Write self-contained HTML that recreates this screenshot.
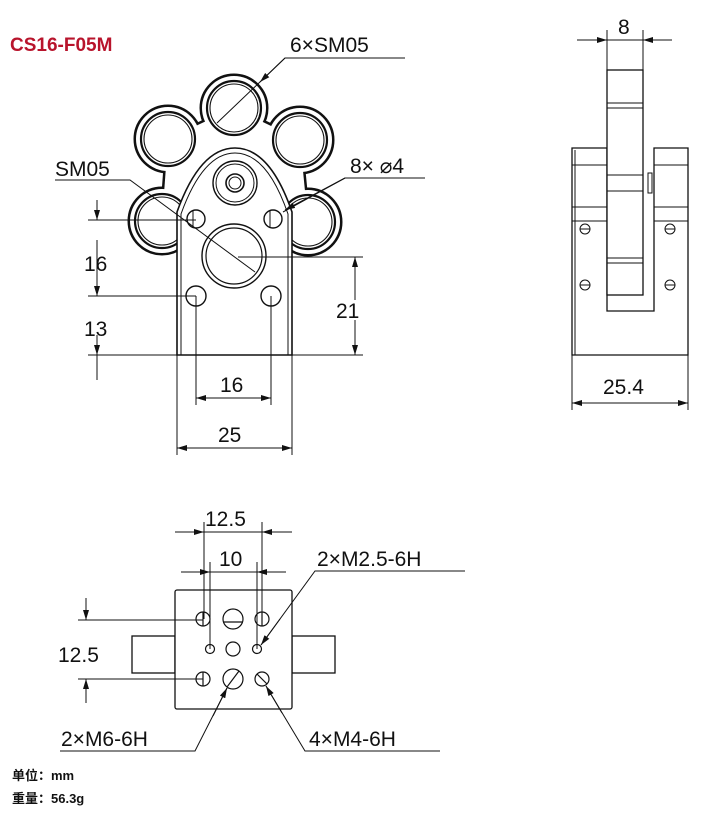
<!DOCTYPE html>
<html><head><meta charset="utf-8"><style>
html,body{margin:0;padding:0;background:#fff;}
svg{display:block;}
text{font-family:"Liberation Sans",Arial,sans-serif;fill:#111;}
</style></head><body>
<svg width="718" height="818" viewBox="0 0 718 818" xmlns="http://www.w3.org/2000/svg">
<defs>
<marker id="a" viewBox="0 0 10 6" refX="10" refY="3" markerWidth="10" markerHeight="6" orient="auto-start-reverse" markerUnits="userSpaceOnUse"><path d="M0,0 L10,3 L0,6 z" fill="#111"/></marker>
</defs>
<text x="10" y="51" style="font-size:19px;font-weight:bold;fill:#b8142c">CS16-F05M</text>

<!-- FRONT VIEW flower: union outline -->
<g stroke="#111" stroke-width="5" fill="#111">
<polygon points="234,108 300,140 308,222 235,250 162,221 168,139"/>
<circle cx="234" cy="108" r="32"/><circle cx="168" cy="139" r="32"/>
<circle cx="300" cy="140" r="32"/><circle cx="162" cy="221" r="32"/>
<circle cx="308" cy="222" r="32"/>
</g>
<g fill="#fff" stroke="none">
<polygon points="234,108 300,140 308,222 235,250 162,221 168,139"/>
<circle cx="234" cy="108" r="32"/><circle cx="168" cy="139" r="32"/>
<circle cx="300" cy="140" r="32"/><circle cx="162" cy="221" r="32"/>
<circle cx="308" cy="222" r="32"/>
</g>
<g fill="none" stroke="#111">
<g stroke-width="2.2">
<circle cx="234" cy="108" r="27"/>
<circle cx="168" cy="139" r="27"/>
<circle cx="300" cy="140" r="27"/>
<circle cx="162" cy="221" r="27"/>
<circle cx="308" cy="222" r="27"/>
</g>
<g stroke-width="1.1">
<circle cx="234" cy="108" r="24"/>
<circle cx="168" cy="139" r="24"/>
<circle cx="300" cy="140" r="24"/>
<circle cx="162" cy="221" r="24"/>
<circle cx="308" cy="222" r="24"/>
</g>
</g>
<!-- bracket plate -->
<path d="M177,355 L177,212 Q200,148 235,148 Q270,148 292,212 L292,355 Z" fill="#fff" stroke="#111" stroke-width="1.6"/>
<path d="M181,355 L181,214 Q203,153 235,153 Q267,153 288,214 L288,355" fill="none" stroke="#111" stroke-width="1"/>
<g fill="none" stroke="#111">
<circle cx="235" cy="183" r="22" stroke-width="1.4"/>
<circle cx="235" cy="183" r="19" stroke-width="1"/>
<circle cx="235" cy="183" r="9" stroke-width="1.6"/>
<circle cx="235" cy="183" r="6" stroke-width="1"/>
<circle cx="234" cy="256" r="32" stroke-width="1.4"/>
<circle cx="234" cy="256" r="28" stroke-width="1.2"/>
<circle cx="196" cy="219" r="9" stroke-width="1.4"/>
<circle cx="273" cy="219" r="9" stroke-width="1.4"/>
<line x1="193" y1="211" x2="193" y2="227"/><line x1="270" y1="211" x2="270" y2="227"/>
<circle cx="196" cy="296" r="10" stroke-width="1.4"/>
<circle cx="271" cy="296" r="10" stroke-width="1.4"/>
</g>
<!-- front dims -->
<g stroke="#111" stroke-width="1" fill="none">
<line x1="88" y1="220" x2="196" y2="220"/>
<line x1="88" y1="296" x2="196" y2="296"/>
<line x1="88" y1="355" x2="363" y2="355"/>
<line x1="238" y1="257" x2="363" y2="257"/>
<line x1="97" y1="200" x2="97" y2="220" marker-end="url(#a)"/>
<line x1="97" y1="240" x2="97" y2="296" marker-end="url(#a)"/>
<line x1="97" y1="335" x2="97" y2="355" marker-end="url(#a)"/>
<line x1="97" y1="355" x2="97" y2="380"/>
<line x1="355" y1="300" x2="355" y2="257" marker-end="url(#a)"/>
<line x1="355" y1="320" x2="355" y2="355" marker-end="url(#a)"/>
<line x1="196" y1="296" x2="196" y2="405"/>
<line x1="271" y1="296" x2="271" y2="405"/>
<line x1="177" y1="355" x2="177" y2="455"/>
<line x1="292" y1="355" x2="292" y2="455"/>
<line x1="196" y1="398" x2="271" y2="398" marker-start="url(#a)" marker-end="url(#a)"/>
<line x1="177" y1="448" x2="292" y2="448" marker-start="url(#a)" marker-end="url(#a)"/>
<polyline points="405,58 285,58 217,123"/>
<line x1="285" y1="58" x2="260" y2="82" marker-end="url(#a)"/>
<polyline points="55,180 130,180 255,272"/>
<polyline points="425,178 345,178 283,212"/>
<line x1="345" y1="178" x2="285" y2="210" marker-end="url(#a)"/>
</g>
<g style="font-size:21px">
<text x="290" y="52">6×SM05</text>
<text x="55" y="176">SM05</text>
<text x="350" y="173">8× ⌀4</text>
<text x="84" y="271">16</text>
<text x="84" y="336">13</text>
<text x="336" y="318">21</text>
<text x="220" y="392">16</text>
<text x="218" y="442">25</text>
</g>

<!-- SIDE VIEW -->
<g fill="#fff" stroke="#111" stroke-width="1.3">
<path d="M572,355 L572,148 L607,148 L607,311 L654,311 L654,148 L688,148 L688,355 Z"/>
<rect x="607" y="70" width="36" height="225"/>
</g>
<g stroke="#111" stroke-width="1" fill="none">
<line x1="575" y1="150" x2="575" y2="355"/>
<line x1="572" y1="165" x2="607" y2="165"/><line x1="654" y1="165" x2="688" y2="165"/>
<line x1="572" y1="207" x2="607" y2="207"/><line x1="654" y1="207" x2="688" y2="207"/>
<line x1="572" y1="221" x2="607" y2="221"/><line x1="654" y1="221" x2="688" y2="221"/>
<line x1="607" y1="103" x2="643" y2="103"/><line x1="607" y1="108" x2="643" y2="108"/>
<line x1="607" y1="175" x2="643" y2="175"/><line x1="607" y1="191" x2="643" y2="191"/>
<line x1="607" y1="258" x2="643" y2="258"/><line x1="607" y1="263" x2="643" y2="263"/>
<rect x="648" y="173" width="4" height="20"/>
<circle cx="585" cy="229" r="5"/><line x1="580" y1="229" x2="590" y2="229"/>
<circle cx="670" cy="229" r="5"/><line x1="665" y1="229" x2="675" y2="229"/>
<circle cx="585" cy="285" r="5"/><line x1="580" y1="285" x2="590" y2="285"/>
<circle cx="670" cy="285" r="5"/><line x1="665" y1="285" x2="675" y2="285"/>
<line x1="607" y1="30" x2="607" y2="70"/><line x1="643" y1="30" x2="643" y2="70"/>
<line x1="577" y1="40" x2="607" y2="40" marker-end="url(#a)"/>
<line x1="672" y1="40" x2="643" y2="40" marker-end="url(#a)"/>
<line x1="607" y1="40" x2="643" y2="40"/>
<line x1="572" y1="355" x2="572" y2="410"/><line x1="688" y1="355" x2="688" y2="410"/>
<line x1="572" y1="403" x2="688" y2="403" marker-start="url(#a)" marker-end="url(#a)"/>
</g>
<g style="font-size:21px">
<text x="618" y="34">8</text>
<text x="603" y="394">25.4</text>
</g>

<!-- BOTTOM VIEW -->
<g fill="#fff" stroke="#111" stroke-width="1.3">
<rect x="132" y="636" width="43" height="37"/>
<rect x="292" y="636" width="43" height="37"/>
<rect x="175" y="590" width="117" height="119" rx="2"/>
</g>
<g stroke="#111" stroke-width="1.2" fill="none">
<circle cx="203" cy="619" r="7"/><line x1="203" y1="612" x2="203" y2="626"/>
<circle cx="262" cy="619" r="7"/><line x1="262" y1="612" x2="262" y2="626"/>
<circle cx="203" cy="679" r="7"/><line x1="203" y1="672" x2="203" y2="686"/>
<circle cx="262" cy="679" r="7"/><line x1="257" y1="674" x2="267" y2="684"/>
<circle cx="233" cy="619" r="10"/><line x1="223" y1="622" x2="243" y2="622"/>
<circle cx="233" cy="679" r="10"/><line x1="227" y1="687" x2="239" y2="671"/>
<circle cx="233" cy="649" r="7"/>
<circle cx="210" cy="649" r="4.5"/>
<circle cx="257" cy="649" r="4.5"/>
</g>
<g stroke="#111" stroke-width="1" fill="none">
<line x1="204" y1="522" x2="204" y2="619"/><line x1="262" y1="522" x2="262" y2="619"/>
<line x1="175" y1="532" x2="204" y2="532" marker-end="url(#a)"/>
<line x1="292" y1="532" x2="262" y2="532" marker-end="url(#a)"/>
<line x1="204" y1="532" x2="262" y2="532"/>
<line x1="210" y1="562" x2="210" y2="649"/><line x1="257" y1="562" x2="257" y2="649"/>
<line x1="181" y1="572" x2="210" y2="572" marker-end="url(#a)"/>
<line x1="286" y1="572" x2="257" y2="572" marker-end="url(#a)"/>
<line x1="210" y1="572" x2="257" y2="572"/>
<line x1="78" y1="620" x2="203" y2="620"/>
<line x1="78" y1="679" x2="203" y2="679"/>
<line x1="86" y1="598" x2="86" y2="620" marker-end="url(#a)"/>
<line x1="86" y1="703" x2="86" y2="679" marker-end="url(#a)"/>
<polyline points="465,571 315,571 261,645"/>
<line x1="280" y1="619" x2="261" y2="645" marker-end="url(#a)"/>
<polyline points="60,751 195,751 227,688"/>
<line x1="213" y1="716" x2="227" y2="688" marker-end="url(#a)"/>
<polyline points="440,751 305,751 266,686"/>
<line x1="282" y1="713" x2="266" y2="686" marker-end="url(#a)"/>
</g>
<g style="font-size:21px">
<text x="205" y="526">12.5</text>
<text x="219" y="566">10</text>
<text x="58" y="662">12.5</text>
<text x="317" y="566">2×M2.5-6H</text>
<text x="61" y="746">2×M6-6H</text>
<text x="309" y="746">4×M4-6H</text>
</g>

<g style="font-size:13px;font-weight:bold">
<text x="12" y="780" style="font-family:'Liberation Sans','Noto Sans CJK SC',sans-serif">单位：mm</text>
<text x="12" y="803" style="font-family:'Liberation Sans','Noto Sans CJK SC',sans-serif">重量：56.3g</text>
</g>
</svg>
</body></html>
